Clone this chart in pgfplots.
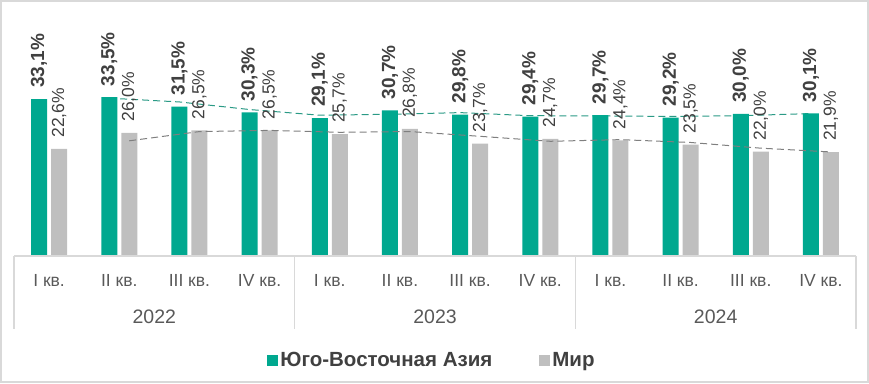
\documentclass[border=0pt]{standalone}
\usepackage{fontspec}
\setmainfont{Liberation Sans}
\usepackage{graphicx}
\usepackage{pgfplots}
\pgfplotsset{compat=1.18}
\definecolor{teal1}{HTML}{00A88F}
\definecolor{gbar}{HTML}{BFBFBF}
\definecolor{dtext}{HTML}{404040}
\definecolor{ltext}{HTML}{595959}
\definecolor{sepc}{HTML}{D9D9D9}
\definecolor{tline}{HTML}{2A9A85}
\definecolor{gline}{HTML}{7F7F7F}
\pgfplotsset{sqlegend/.style={legend image code/.code={\fill[##1,draw=none] (-3pt,-5.5pt) rectangle (8pt,5.5pt);}}}
\begin{document}
\begin{tikzpicture}[x=1pt,y=1pt]
\useasboundingbox (0,0) rectangle (869,383);
\draw[sepc, line width=2pt] (1,1) rectangle (868,382);
\begin{axis}[
  at={(14pt,127pt)}, anchor=south west, scale only axis,
  width=842pt, height=237pt,
  xmin=-0.5, xmax=11.5, ymin=0, ymax=50,
  axis line style={draw=none}, major tick length=0pt,
  ytick=\empty, xtick={0,...,11},
  xticklabels={I кв.,II кв.,III кв.,IV кв.,I кв.,II кв.,III кв.,IV кв.,I кв.,II кв.,III кв.,IV кв.},
  xticklabel style={anchor=center, yshift=-24pt, font=\fontsize{17.5}{17.5}\selectfont, text=ltext},
  clip=false,
  legend style={at={(0.4964,-0.439)}, anchor=center, draw=none, fill=none,
    legend columns=2, font=\bfseries\fontsize{20.5}{20.5}\selectfont, text=dtext},
]
\addplot[sharp plot, tline, dash pattern=on 7pt off 4pt, line width=1pt, forget plot]
 coordinates {(0.8575,33.3) (1.8575,32.5) (2.8575,30.9) (3.8575,29.7) (4.8575,29.9) (5.8575,30.25) (6.8575,29.6) (7.8575,29.55) (8.8575,29.45) (9.8575,29.6) (10.8575,30.05)};
\addplot[ybar, bar width=16pt, bar shift=-10pt, fill=teal1, draw=none, sqlegend,
  nodes near coords={\rotatebox{90}{\bfseries\fontsize{19}{19}\selectfont\pgfmathprintnumber[fixed,fixed zerofill,precision=1,use comma,assume math mode=true]{\pgfplotspointmeta}\%}},
  every node near coord/.append style={anchor=south, xshift=-10pt, inner ysep=11pt, inner xsep=0pt, text=dtext}]
 coordinates {(0,33.1) (1,33.5) (2,31.5) (3,30.3) (4,29.1) (5,30.7) (6,29.8) (7,29.4) (8,29.7) (9,29.2) (10,30.0) (11,30.1)};
\addlegendentry{Юго-Восточная Азия\rule{45pt}{0pt}}
\addplot[ybar, bar width=16pt, bar shift=10pt, fill=gbar, draw=none, sqlegend,
  nodes near coords={\rotatebox{90}{\fontsize{17.5}{17.5}\selectfont\pgfmathprintnumber[fixed,fixed zerofill,precision=1,use comma,assume math mode=true]{\pgfplotspointmeta}\%}},
  every node near coord/.append style={anchor=south, xshift=10pt, inner ysep=11pt, inner xsep=0pt, text=dtext}]
 coordinates {(0,22.6) (1,26.0) (2,26.5) (3,26.5) (4,25.7) (5,26.8) (6,23.7) (7,24.7) (8,24.4) (9,23.5) (10,22.0) (11,21.9)};
\addlegendentry{Мир}
\addplot[sharp plot, gline, dash pattern=on 7pt off 4pt, line width=1pt, forget plot]
 coordinates {(1.1425,24.3) (2.1425,26.25) (3.1425,26.5) (4.1425,26.1) (5.1425,26.25) (6.1425,25.25) (7.1425,24.2) (8.1425,24.55) (9.1425,23.95) (10.1425,22.75) (11.1425,21.95)};
\draw[sepc, line width=1.3pt] (axis cs:-0.5,0) -- (axis cs:11.5,0);
\draw[sepc, line width=1.3pt] (axis cs:-0.5,0) -- ++(0pt,-73pt);
\draw[sepc, line width=1.3pt] (axis cs:3.5,0) -- ++(0pt,-73pt);
\draw[sepc, line width=1.3pt] (axis cs:7.5,0) -- ++(0pt,-73pt);
\draw[sepc, line width=1.3pt] (axis cs:11.5,0) -- ++(0pt,-73pt);
\node[yshift=-61pt, font=\fontsize{19.5}{19.5}\selectfont, text=ltext] at (axis cs:1.5,0) {2022};
\node[yshift=-61pt, font=\fontsize{19.5}{19.5}\selectfont, text=ltext] at (axis cs:5.5,0) {2023};
\node[yshift=-61pt, font=\fontsize{19.5}{19.5}\selectfont, text=ltext] at (axis cs:9.5,0) {2024};
\end{axis}
\end{tikzpicture}
\end{document}
